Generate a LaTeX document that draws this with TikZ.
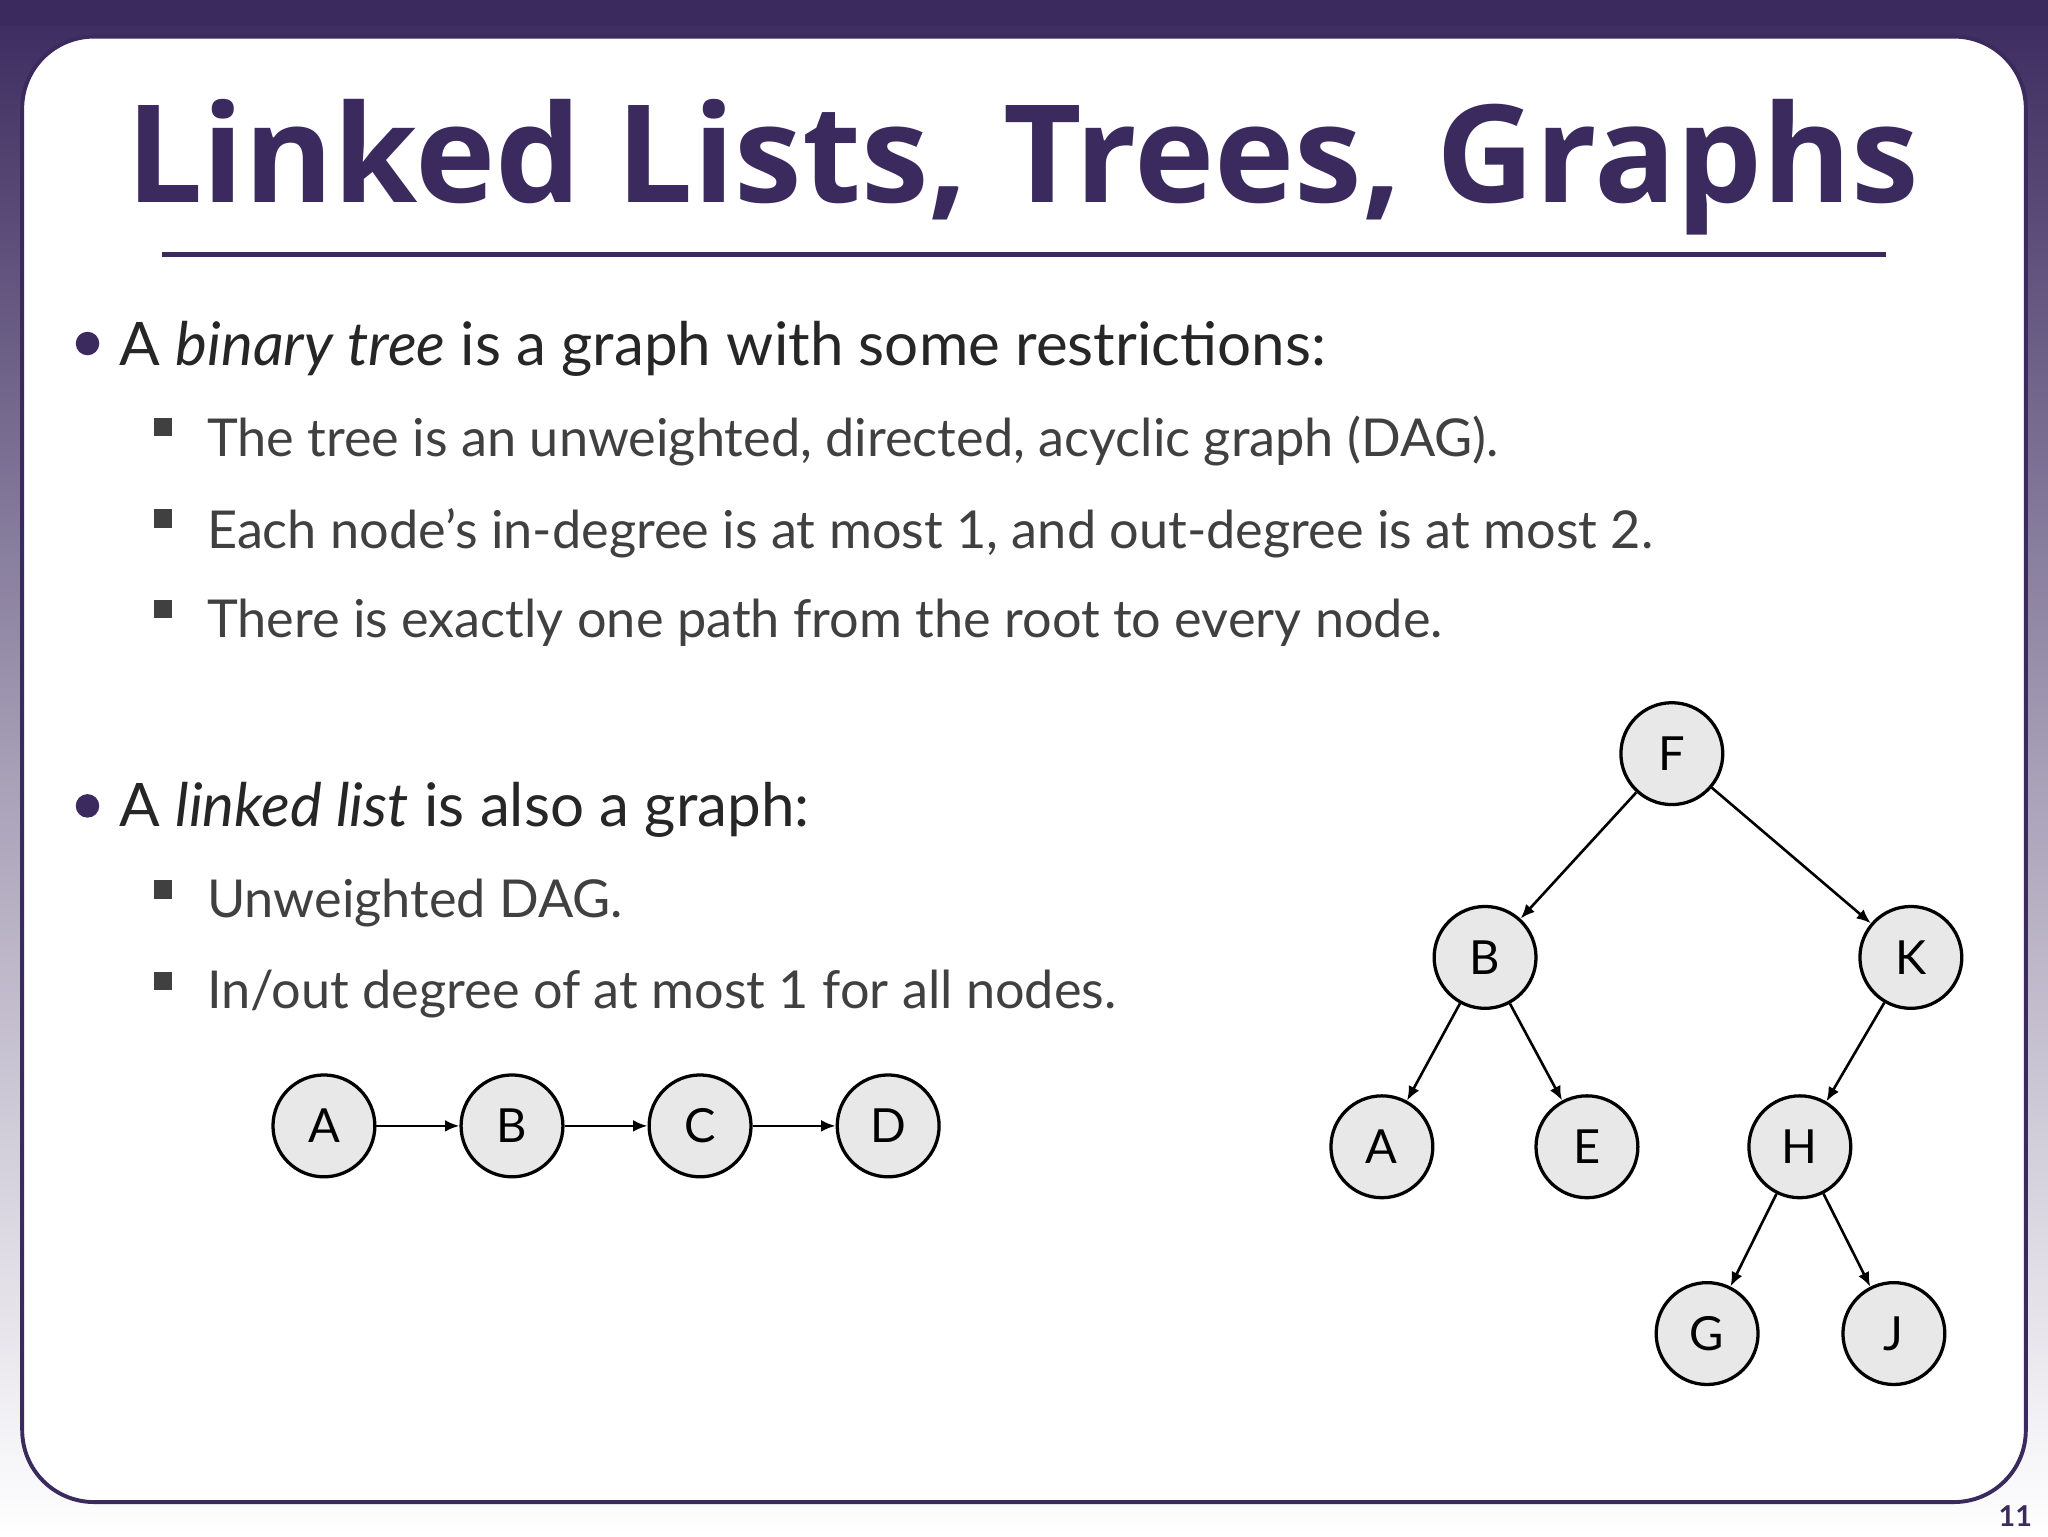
\documentclass[tikz,border=0pt]{standalone}
\usepackage{fontspec}
\setmainfont{Lato}
\newfontfamily\titlefont{Open Sans}
\usetikzlibrary{arrows.meta}
\definecolor{dpurple}{HTML}{3B2A5E}
\definecolor{txtgray}{HTML}{404040}
\definecolor{nodefill}{HTML}{E8E8E8}
\tikzset{
 vert/.style={circle,draw=black,line width=2.5pt,fill=nodefill,minimum size=78pt,inner sep=0pt,font=\fontsize{36}{40}\selectfont},
 edge/.style={line width=2pt,-{Latex[length=11pt,width=9pt]}},
 lvl1/.style={anchor=west,text=black!85,font=\fontsize{46}{50}\selectfont},
 lvl2/.style={anchor=west,text=txtgray,font=\fontsize{40}{44}\selectfont},
}
\begin{document}
\begin{tikzpicture}[x=1pt,y=-1pt]
\useasboundingbox (0,0) rectangle (1568,1176);
\shade[top color=dpurple,bottom color=white,middle color=dpurple!45] (0,0) rectangle (1568,1176);
\fill[dpurple] (0,0) rectangle (1568,20);
\draw[dpurple,line width=3pt,fill=white,rounded corners=55pt] (17,28) rectangle (1551,1150);
\node[font=\titlefont\bfseries\fontsize{104}{110}\selectfont,text=dpurple] (title) at (783,128) {Linked Lists, Trees, Graphs};
\draw[dpurple,line width=4pt] (124,195) -- (1444,195);
\node[text=dpurple,font=\fontsize{22}{24}\selectfont\bfseries] (pg) at (1543,1161) {11};

\foreach \y in {263,617}{\fill[dpurple] (67,\y) circle (9pt);}
\foreach \y in {327,397,466,681,751}{\fill[txtgray] (118,\y-7) rectangle (132,\y+7);}
\node[lvl1] (b1) at (88,267) {A \textit{binary tree} is a graph with some restrictions:};
\node[lvl2] (s1) at (155,338) {The tree is an unweighted, directed, acyclic graph (DAG).};
\node[lvl2] (s2) at (155,408) {Each node's in-degree is at most 1, and out-degree is at most 2.};
\node[lvl2] (s3) at (155,477) {There is exactly one path from the root to every node.};
\node[lvl1] (b2) at (88,620) {A \textit{linked list} is also a graph:};
\node[lvl2] (s4) at (155,691) {Unweighted DAG.};
\node[lvl2] (s5) at (155,761) {In/out degree of at most 1 for all nodes.};

\node[vert] (la) at (248,862) {A};
\node[vert] (lb) at (392,862) {B};
\node[vert] (lc) at (536,862) {C};
\node[vert] (ld) at (680,862) {D};
\draw[edge] (la)--(lb); \draw[edge] (lb)--(lc); \draw[edge] (lc)--(ld);

\node[vert] (F) at (1280,577) {F};
\node[vert] (B) at (1137,733) {B};
\node[vert] (K) at (1463,733) {K};
\node[vert] (A) at (1058,878) {A};
\node[vert] (E) at (1215,878) {E};
\node[vert] (H) at (1378,878) {H};
\node[vert] (G) at (1307,1021) {G};
\node[vert] (J) at (1450,1021) {J};
\draw[edge] (F)--(B); \draw[edge] (F)--(K);
\draw[edge] (B)--(A); \draw[edge] (B)--(E);
\draw[edge] (K)--(H);
\draw[edge] (H)--(G); \draw[edge] (H)--(J);
\end{tikzpicture}
\end{document}
